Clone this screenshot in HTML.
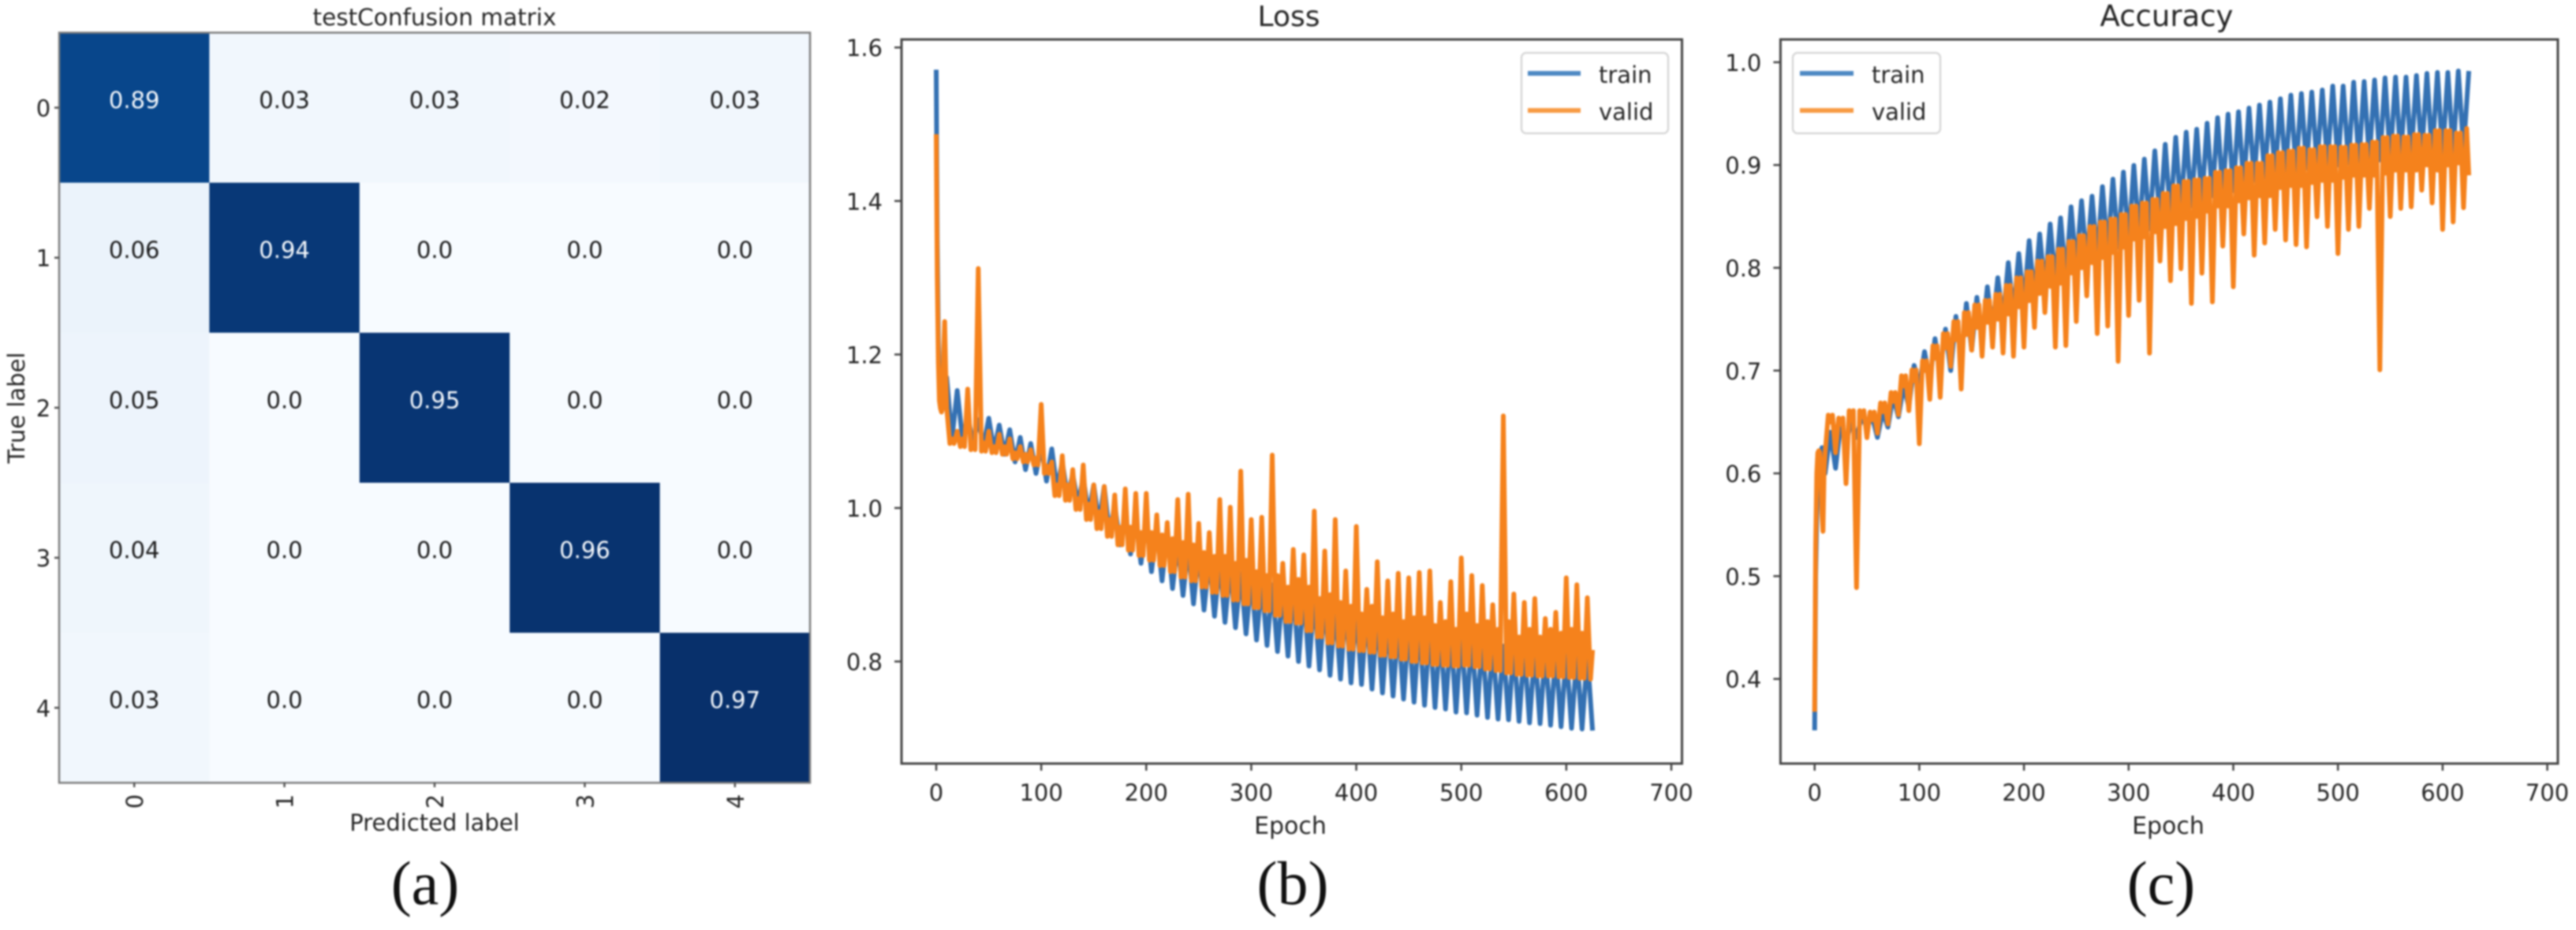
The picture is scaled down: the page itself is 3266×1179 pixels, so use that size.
<!DOCTYPE html>
<html lang="en">
<head>
<meta charset="utf-8">
<title>Confusion matrix, loss and accuracy</title>
<style>
html,body{margin:0;padding:0;background:#fff;width:3266px;height:1179px;overflow:hidden}
svg{display:block;filter:blur(1px)}
text{font-family:"DejaVu Sans","Liberation Sans",sans-serif;fill:#262626}
.serif{font-family:"Liberation Serif",serif;fill:#111;font-size:78px}
</style>
</head>
<body>
<svg id="figure" xmlns="http://www.w3.org/2000/svg" width="3266" height="1179" viewBox="0 0 3266 1179">
  <text x="551" y="32" font-size="29.5" text-anchor="middle">testConfusion matrix</text>
  <text x="551" y="1053" font-size="29" text-anchor="middle">Predicted label</text>
  <text x="0" y="0" font-size="29" text-anchor="middle" transform="translate(31 517) rotate(-90)">True label</text>
  <text class="serif" x="539" y="1146" text-anchor="middle">(a)</text>
  <text x="1634" y="33" font-size="36" text-anchor="middle">Loss</text>
  <text x="1636" y="1057" font-size="30" text-anchor="middle">Epoch</text>
  <text class="serif" x="1639" y="1146" text-anchor="middle">(b)</text>
  <text x="2747" y="33" font-size="37" text-anchor="middle">Accuracy</text>
  <text x="2749" y="1057" font-size="30" text-anchor="middle">Epoch</text>
  <text class="serif" x="2740" y="1146" text-anchor="middle">(c)</text>
  <g id="layer"></g>
  <g>
    <rect x="1929" y="67" width="186" height="102" rx="6" fill="#fff" fill-opacity="0.9" stroke="#d8d8d8" stroke-width="2.5"/>
    <line x1="1937" x2="2004" y1="93" y2="93" stroke="#4f8ac4" stroke-width="6"/>
    <text x="2027" y="105" font-size="29">train</text>
    <line x1="1937" x2="2004" y1="140" y2="140" stroke="#f89b45" stroke-width="6"/>
    <text x="2027" y="152" font-size="29">valid</text>
  </g>
  <g>
    <rect x="2273" y="67" width="187" height="102" rx="6" fill="#fff" fill-opacity="0.9" stroke="#d8d8d8" stroke-width="2.5"/>
    <line x1="2282" x2="2350" y1="93" y2="93" stroke="#4f8ac4" stroke-width="6"/>
    <text x="2373" y="105" font-size="29">train</text>
    <line x1="2282" x2="2350" y1="140" y2="140" stroke="#f89b45" stroke-width="6"/>
    <text x="2373" y="152" font-size="29">valid</text>
  </g>
</svg>
<script>
/* ---------- data ---------- */
const confusionLabels = ["0","1","2","3","4"];
const confusionValues = [
  [0.89,0.03,0.03,0.02,0.03],
  [0.06,0.94,0.0,0.0,0.0],
  [0.05,0.0,0.95,0.0,0.0],
  [0.04,0.0,0.0,0.96,0.0],
  [0.03,0.0,0.0,0.0,0.97]
];
const epochTicks = [0,100,200,300,400,500,600,700];
const lossTicks = [0.8,1.0,1.2,1.4,1.6];
const accuracyTicks = [0.4,0.5,0.6,0.7,0.8,0.9,1.0];
const headEpochs = [0,1,2,3,4,5,6,7,8,9];

/* Loss, train: first epochs, crests at epochs 10,20,...,620, troughs at 15,25,...,625 */
const lossTrainHead = [1.571,1.35,1.22,1.16,1.14,1.13,1.13,1.135,1.14,1.155];
const lossTrainHigh = [
  1.17,1.153,1.12,1.115,1.117,1.108,1.102,1.092,1.084,1.08,
  1.077,1.06,1.044,1.04,1.03,1.028,1.005,.995,.985,.987,
  .975,.97,.955,.95,.945,.935,.93,.925,.915,.91,
  .905,.90,.895,.895,.89,.885,.88,.87,.875,.87,
  .865,.86,.855,.85,.848,.85,.845,.84,.84,.84,
  .835,.83,.825,.82,.82,.817,.816,.815,.813,.812,
  .81,.809];
const lossTrainLow = [
  1.09,1.09,1.085,1.08,1.075,1.07,1.06,1.05,1.045,1.035,
  1.025,1.015,1.005,.992,.98,.965,.952,.94,.928,.917,
  .905,.895,.886,.875,.867,.859,.851,.844,.836,.828,
  .821,.813,.807,.80,.794,.789,.782,.777,.772,.77,
  .764,.759,.755,.751,.747,.743,.74,.738,.734,.733,
  .73,.727,.725,.724,.722,.72,.719,.717,.715,.713,
  .712,.71];

/* Loss, valid: spikes at 10,20,...,620, floor beside them, small bumps at 15,25,...,625 */
const lossValidHead = [1.487,1.30,1.19,1.14,1.13,1.125,1.13,1.20,1.243,1.18];
const lossValidSpike = [
  1.13,1.10,1.155,1.312,1.10,1.096,1.09,1.08,1.076,1.135,
  1.06,1.068,1.05,1.056,1.03,1.028,1.017,1.025,1.019,1.019,
  .991,.981,1.011,1.018,.98,.968,1.011,1.001,1.048,.985,
  .988,1.069,.928,.946,.939,.996,.944,.985,.918,.976,
  .894,.93,.905,.915,.909,.916,.918,.877,.904,.935,
  .912,.899,.874,1.12,.888,.877,.882,.856,.864,.909,
  .90,.883];
const lossValidFloor = [
  1.084,1.08,1.076,1.074,1.072,1.07,1.064,1.06,1.056,1.045,
  1.016,1.01,.998,.985,.973,.963,.952,.945,.938,.932,
  .925,.917,.91,.905,.897,.89,.886,.88,.875,.87,
  .866,.86,.852,.85,.84,.832,.824,.82,.816,.814,
  .812,.808,.806,.803,.80,.798,.796,.795,.794,.795,
  .793,.79,.788,.785,.783,.782,.781,.781,.78,.779,
  .778,.777];
const lossValidBump = [
  1.09,1.09,1.085,1.085,1.08,1.08,1.072,1.07,1.065,1.055,
  1.03,1.03,1.012,1.005,.995,.985,.975,.975,.968,.968,
  .965,.96,.955,.952,.942,.937,.937,.928,.932,.917,
  .912,.912,.897,.907,.897,.882,.887,.877,.872,.862,
  .872,.857,.862,.852,.857,.857,.847,.852,.842,.862,
  .847,.852,.842,.852,.832,.842,.832,.842,.837,.842,
  .837,.815];

/* Accuracy, train: troughs at 10,20,...,620, crests at 15,25,...,625 */
const accTrainHead = [.35,.50,.56,.59,.605,.615,.62,.625,.62,.61];
const accTrainLow = [
  .60,.605,.63,.635,.645,.635,.645,.655,.665,.685,
  .69,.70,.70,.71,.72,.73,.74,.75,.755,.765,
  .77,.78,.785,.79,.80,.805,.81,.815,.82,.825,
  .83,.838,.845,.85,.855,.86,.865,.87,.872,.875,
  .88,.885,.888,.89,.892,.895,.897,.90,.90,.90,
  .902,.903,.905,.905,.905,.907,.908,.91,.91,.91,
  .912,.915];
const accTrainHigh = [
  .64,.65,.65,.655,.655,.66,.675,.685,.705,.7184,
  .731,.7404,.7527,.7653,.7712,.7815,.7903,.805,.8138,.8264,
  .8329,.8426,.8485,.8593,.8652,.8696,.879,.8863,.8931,.8996,
  .9057,.9137,.9201,.9269,.9319,.9348,.9407,.946,.9495,.9518,
  .9554,.9583,.9612,.9645,.968,.9695,.9709,.973,.9768,.9768,
  .9806,.9812,.9827,.9847,.9856,.9856,.9871,.9891,.99,.99,
  .9915,.9915];

/* Accuracy, valid: dips at 10,20,...,620, ceiling beside them, small bumps at 15,25,...,625 */
const accValidHead = [.368,.53,.60,.62,.622,.62,.60,.56,.5436,.60];
const accValidSpike = [
  .62,.62,.59,.4888,.6347,.639,.648,.657,.661,.6288,
  .672,.674,.704,.682,.7198,.714,.7228,.717,.714,.7228,
  .742,.7565,.7228,.7243,.7477,.7727,.736,.7433,.709,.7536,
  .7683,.7169,.8065,.7874,.7991,.7653,.7947,.7668,.8211,.7815,
  .8329,.8123,.8241,.8373,.827,.8226,.8203,.8496,.8402,.8138,
  .8373,.8402,.8578,.7007,.8499,.8578,.8593,.8755,.8631,.8373,
  .8446,.8584];
const accValidFloor = [
  .6567,.6538,.661,.661,.6596,.6685,.6787,.6949,.7007,.7095,
  .7242,.736,.7477,.7565,.7639,.7683,.7742,.783,.7903,.7962,
  .8065,.8109,.8182,.8256,.8314,.8402,.8446,.8476,.852,.8602,
  .8631,.8667,.8725,.8799,.8843,.8858,.8872,.8931,.8946,.8975,
  .9019,.9019,.9093,.9122,.9137,.9166,.9151,.918,.918,.9175,
  .9195,.9201,.9225,.9269,.9283,.9275,.9298,.9292,.9336,.9336,
  .9313,.9357];
const accValidBump = [
  .65,.648,.652,.655,.652,.66,.67,.685,.69,.70,
  .712,.722,.73,.735,.742,.747,.75,.755,.762,.768,
  .775,.782,.785,.795,.80,.805,.81,.815,.82,.828,
  .83,.835,.84,.843,.848,.85,.855,.86,.86,.865,
  .868,.87,.87,.878,.88,.88,.883,.885,.885,.888,
  .89,.89,.89,.892,.895,.895,.895,.90,.895,.90,
  .902,.89];

/* ---------- axis functions ---------- */
const lossX = e => 1187 + 1.3314 * e;
const lossY = v => 838.6 - (v - 0.8) * 973;
const accX = e => 2300.7 + 1.327 * e;
const accY = v => 860.7 - (v - 0.4) * 1303;
const cmCol = i => 75 + i * 190.4;
const cmRow = i => 41.4 + i * 190.2;

/* ---------- helpers ---------- */
const NS = "http://www.w3.org/2000/svg";
const layer = document.getElementById("layer");
function mk(tag, attrs, txt) {
  const n = document.createElementNS(NS, tag);
  for (const k in attrs) n.setAttribute(k, attrs[k]);
  if (txt !== undefined) n.textContent = txt;
  layer.appendChild(n);
  return n;
}
const blueStops = [[247,251,255],[222,235,247],[198,219,239],[158,202,225],[107,174,214],[66,146,198],[33,113,181],[8,81,156],[8,48,107]];
function blues(t) {
  const p = Math.min(Math.max(t, 0), 1) * 8, i = Math.min(Math.floor(p), 7), f = p - i;
  const c = [0,1,2].map(k => Math.round(blueStops[i][k] + (blueStops[i+1][k] - blueStops[i][k]) * f));
  return "rgb(" + c.join(",") + ")";
}
function trainPoints(head, even, odd) {
  const pts = headEpochs.map((e, i) => [e, head[i]]);
  even.forEach((v, i) => {
    pts.push([10 + 10 * i, v]);
    pts.push([15 + 10 * i, odd[i]]);
  });
  return pts;
}
function validPoints(head, spike, floor, bump) {
  const pts = headEpochs.map((e, i) => [e, head[i]]);
  spike.forEach((v, i) => {
    pts.push([10 + 10 * i, v]);
    pts.push([13 + 10 * i, floor[i]]);
    pts.push([15 + 10 * i, bump[i]]);
    if (i < spike.length - 1) pts.push([17 + 10 * i, floor[i]]);
  });
  return pts;
}
function pathFrom(points, xf, yf) {
  return points.map((p, i) => (i ? "L" : "M") + xf(p[0]).toFixed(1) + " " + yf(p[1]).toFixed(1)).join("");
}

/* ---------- confusion matrix ---------- */
const cmMax = 0.97;
confusionValues.forEach((row, r) => {
  row.forEach((v, c) => {
    const cell = mk("rect", {x: cmCol(c), y: cmRow(r), width: 190.9, height: 190.7, fill: blues(v / cmMax)});
    
    
  });
});
confusionValues.forEach((row, r) => {
  row.forEach((v, c) => {
    const s = v === 0 ? "0.0" : String(v);
    const label = mk("text", {x: cmCol(c) + 95.2, y: cmRow(r) + 95 + 0.5, "font-size": 29, "text-anchor": "middle", style: "fill:" + (v > 0.5 ? "#f4f8fc" : "#1c1c1c")}, s);
    
    
  });
});
const cmFrame = mk("rect", {x: 75, y: 41.4, width: 952, height: 951, fill: "none", stroke: "#7d7d7d", "stroke-width": 2.5});


confusionLabels.forEach((lab, i) => {
  const ty = cmRow(i) + 95.1, tx = cmCol(i) + 95.2;
  const yt = mk("line", {x1: 69, x2: 75, y1: ty, y2: ty, stroke: "#555", "stroke-width": 2.5});
  
  
  const yl = mk("text", {x: 55, y: ty + 11, "font-size": 29, "text-anchor": "middle"}, lab);
  
  
  const xt = mk("line", {x1: tx, x2: tx, y1: 992, y2: 998, stroke: "#555", "stroke-width": 2.5});
  
  
  const xl = mk("text", {x: 0, y: 0, "font-size": 29, "text-anchor": "middle", transform: "translate(" + (tx + 11) + " 1016) rotate(-90)"}, lab);
  
  
});

/* ---------- line panels ---------- */
function drawPanel(box, xf, yf, yTickVals, trainPts, validPts) {
  const train = mk("path", {d: pathFrom(trainPts, xf, yf), fill: "none", stroke: "#3471b3", "stroke-width": 6, "stroke-linejoin": "round"});
  
  
  const valid = mk("path", {d: pathFrom(validPts, xf, yf), fill: "none", stroke: "#f5821c", "stroke-width": 6, "stroke-linejoin": "round"});
  
  
  const frame = mk("rect", {x: box.l, y: box.t, width: box.r - box.l, height: box.b - box.t, fill: "none", stroke: "#454545", "stroke-width": 3});
  
  
  epochTicks.forEach(e => {
    const x = xf(e);
    const t = mk("line", {x1: x, x2: x, y1: box.b, y2: box.b + 9, stroke: "#454545", "stroke-width": 2.5});
    
    
    const l = mk("text", {x: x, y: 1015, "font-size": 29, "text-anchor": "middle"}, String(e));
    
    
  });
  yTickVals.forEach(v => {
    const y = yf(v);
    const t = mk("line", {x1: box.l - 9, x2: box.l, y1: y, y2: y, stroke: "#454545", "stroke-width": 2.5});
    
    
    const l = mk("text", {x: box.l - 24, y: y + 11, "font-size": 29, "text-anchor": "end"}, v.toFixed(1));
    
    
  });
}
drawPanel({l: 1143, r: 2132.5, t: 50, b: 968}, lossX, lossY, lossTicks,
  trainPoints(lossTrainHead, lossTrainHigh, lossTrainLow),
  validPoints(lossValidHead, lossValidSpike, lossValidFloor, lossValidBump));
drawPanel({l: 2257.4, r: 3243, t: 50, b: 968}, accX, accY, accuracyTicks,
  trainPoints(accTrainHead, accTrainLow, accTrainHigh),
  validPoints(accValidHead, accValidSpike, accValidFloor, accValidBump));
</script>
</body>
</html>
